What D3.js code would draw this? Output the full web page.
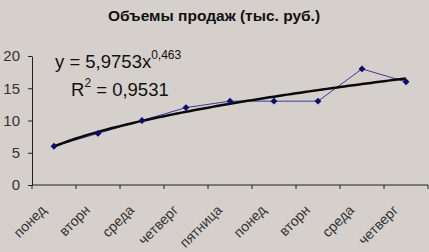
<!DOCTYPE html>
<html>
<head>
<meta charset="utf-8">
<script src="https://cdn.jsdelivr.net/npm/d3@7"></script>
<style>
  body { margin: 0; background: #d5d0cb; }
  svg { display: block; font-family: Arial, "Liberation Sans", sans-serif; }
</style>
</head>
<body>
<svg class="chart"></svg>
<script>
const days = ["понед", "вторн", "среда", "четверг", "пятница", "понед", "вторн", "среда", "четверг"];
const sales = [6, 8, 10, 12, 13, 13, 13, 18, 16];
const yTicks = [0, 5, 10, 15, 20];
// power trendline coefficients shown on the chart
const trendA = 5.9753, trendB = 0.463;
const chartTitle = "Объемы продаж (тыс. руб.)";

const
  margin = {top: 56, right: 1, bottom: 67, left: 32},
  width = 429 - margin.left - margin.right,
  height = 252 - margin.top - margin.bottom;

const svg = d3.select(".chart")
  .attr("width", 429)
  .attr("height", 252);

svg.append("rect")
  .attr("width", 429).attr("height", 252)
  .attr("fill", "#d5d0cb");

svg.append("text")
  .attr("x", 214).attr("y", 21)
  .attr("text-anchor", "middle")
  .attr("font-weight", "bold")
  .attr("font-size", 15.5)
  .attr("fill", "#111")
  .text(chartTitle);

const g = svg.append("g")
  .attr("transform", `translate(${margin.left},${margin.top})`);

const xScale = d3.scaleBand()
  .domain(d3.range(days.length))
  .range([0, width]);

const yScale = d3.scaleLinear()
  .domain([0, 20])
  .range([height, 0]);

// y axis
const yAxis = g.append("g")
  .call(d3.axisLeft(yScale).tickValues(yTicks).tickSize(4).tickSizeOuter(0));
yAxis.selectAll("text")
  .attr("font-size", 15)
  .attr("fill", "#333")
  .attr("font-family", "Arial, sans-serif")
  .attr("x", -12);

// x axis, ticks on band boundaries
const xAxis = g.append("g")
  .attr("transform", `translate(0,${height})`);
xAxis.append("line")
  .attr("x1", 0).attr("x2", width)
  .attr("stroke", "#222");
xAxis.selectAll(".tk")
  .data(d3.range(days.length + 1))
  .enter()
  .append("line")
    .attr("class", "tk")
    .attr("x1", i => i < days.length ? xScale(i) : width)
    .attr("x2", i => i < days.length ? xScale(i) : width)
    .attr("y1", 0).attr("y2", 4)
    .attr("stroke", "#222");
xAxis.selectAll(".lbl")
  .data(days)
  .enter()
  .append("text")
    .attr("class", "lbl")
    .attr("text-anchor", "end")
    .attr("font-size", 14)
    .attr("fill", "#333")
    .attr("transform", (d, i) => `translate(${xScale(i) + xScale.bandwidth() / 2 - 7},${26}) rotate(-45)`)
    .text(d => d);

g.selectAll(".domain").attr("stroke", "#222");
g.selectAll(".tick line").attr("stroke", "#222");

const cx = i => xScale(i) + xScale.bandwidth() / 2;

// data line
g.append("path")
  .datum(sales)
  .attr("fill", "none")
  .attr("stroke", "#3b3b9a")
  .attr("stroke-width", 1)
  .attr("d", d3.line().x((d, i) => cx(i)).y(d => yScale(d)));

// trendline
const trendX = d3.range(1, days.length + 0.001, 0.1);
g.append("path")
  .datum(trendX)
  .attr("fill", "none")
  .attr("stroke", "#0a0a0a")
  .attr("stroke-width", 2.5)
  .attr("d", d3.line()
    .x(t => cx(0) + (t - 1) * xScale.bandwidth())
    .y(t => yScale(trendA * Math.pow(t, trendB))));

// markers
g.selectAll(".pt")
  .data(sales)
  .enter()
  .append("path")
    .attr("class", "pt")
    .attr("d", d3.symbol(d3.symbolDiamond2, 30))
    .attr("transform", (d, i) => `translate(${cx(i)},${yScale(d)})`)
    .attr("fill", "#0b0b70");

// equation
const eq = svg.append("text")
  .attr("x", 55).attr("y", 68)
  .attr("font-size", 18.5)
  .attr("fill", "#111");
eq.append("tspan").text("y = 5,9753x");
eq.append("tspan").attr("font-size", 12).attr("dy", -9).text("0,463");

const r2 = svg.append("text")
  .attr("x", 71).attr("y", 96)
  .attr("font-size", 18.5)
  .attr("fill", "#111");
r2.append("tspan").text("R");
r2.append("tspan").attr("font-size", 12).attr("dy", -9).text("2");
r2.append("tspan").attr("dy", 9).text(" = 0,9531");
</script>
</body>
</html>
